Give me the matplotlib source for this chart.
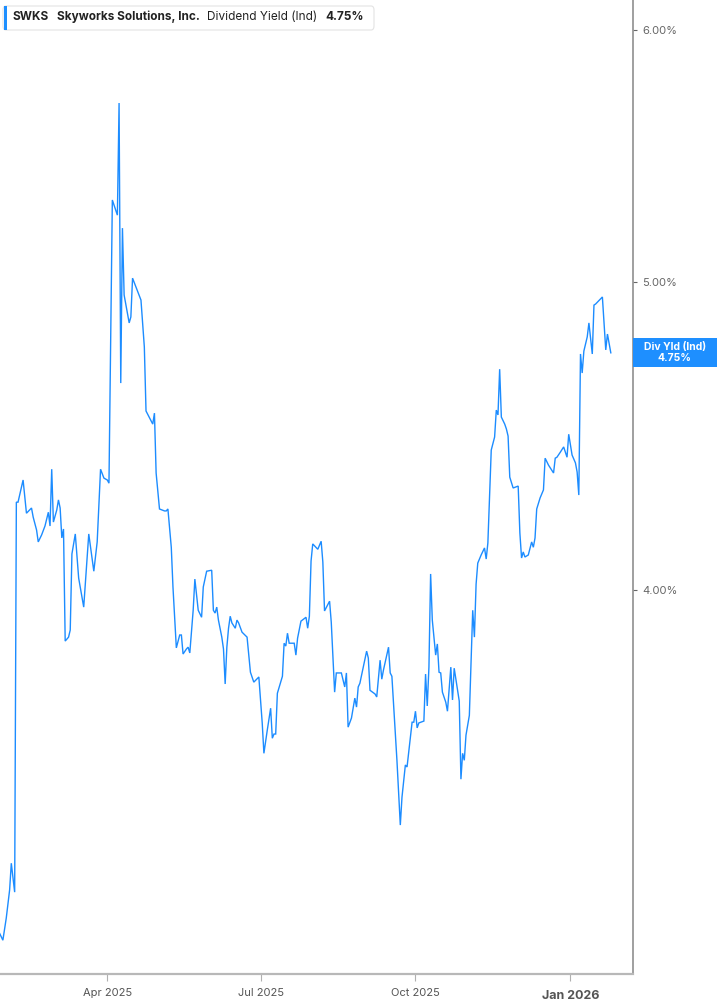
import matplotlib
matplotlib.use("Agg")
import matplotlib.pyplot as plt
import matplotlib.dates as mdates
from matplotlib.patches import FancyBboxPatch, Rectangle
from matplotlib.ticker import FixedLocator, NullLocator, FuncFormatter
import pandas as pd

plt.rcParams['font.family'] = ['Inter', 'DejaVu Sans']

# SWKS indicated dividend yield (%)
dates = [
    "2025-01-27", "2025-01-29", "2025-01-31", "2025-02-02", "2025-02-03", "2025-02-05",
    "2025-02-06", "2025-02-07", "2025-02-10", "2025-02-12", "2025-02-15", "2025-02-16",
    "2025-02-18", "2025-02-19", "2025-02-21", "2025-02-23", "2025-02-25", "2025-02-26",
    "2025-02-27", "2025-02-28", "2025-03-02", "2025-03-03", "2025-03-04", "2025-03-05",
    "2025-03-06", "2025-03-07", "2025-03-09", "2025-03-10", "2025-03-11", "2025-03-13",
    "2025-03-15", "2025-03-18", "2025-03-21", "2025-03-24", "2025-03-26", "2025-03-28",
    "2025-03-30", "2025-04-01", "2025-04-02", "2025-04-04", "2025-04-07", "2025-04-08",
    "2025-04-09", "2025-04-10", "2025-04-11", "2025-04-14", "2025-04-15", "2025-04-16",
    "2025-04-21", "2025-04-23", "2025-04-24", "2025-04-28", "2025-04-29", "2025-04-30",
    "2025-05-02", "2025-05-05", "2025-05-06", "2025-05-07", "2025-05-09", "2025-05-10",
    "2025-05-12", "2025-05-14", "2025-05-15", "2025-05-16", "2025-05-18", "2025-05-19",
    "2025-05-20", "2025-05-22", "2025-05-23", "2025-05-25", "2025-05-27", "2025-05-28",
    "2025-05-29", "2025-05-30", "2025-06-02", "2025-06-03", "2025-06-04", "2025-06-05",
    "2025-06-06", "2025-06-08", "2025-06-09", "2025-06-10", "2025-06-11", "2025-06-12",
    "2025-06-13", "2025-06-14", "2025-06-16", "2025-06-17", "2025-06-18", "2025-06-20",
    "2025-06-23", "2025-06-25", "2025-06-27", "2025-06-30", "2025-07-02", "2025-07-03",
    "2025-07-05", "2025-07-07", "2025-07-08", "2025-07-09", "2025-07-10", "2025-07-11",
    "2025-07-14", "2025-07-15", "2025-07-16", "2025-07-17", "2025-07-18", "2025-07-21",
    "2025-07-22", "2025-07-23", "2025-07-25", "2025-07-28", "2025-07-29", "2025-07-30",
    "2025-07-31", "2025-08-01", "2025-08-04", "2025-08-06", "2025-08-07", "2025-08-08",
    "2025-08-11", "2025-08-12", "2025-08-14", "2025-08-15", "2025-08-18", "2025-08-20",
    "2025-08-21", "2025-08-22", "2025-08-24", "2025-08-26", "2025-08-27", "2025-08-28",
    "2025-08-29", "2025-09-02", "2025-09-03", "2025-09-04", "2025-09-07", "2025-09-08",
    "2025-09-10", "2025-09-11", "2025-09-12", "2025-09-15", "2025-09-16", "2025-09-17",
    "2025-09-20", "2025-09-22", "2025-09-23", "2025-09-25", "2025-09-26", "2025-09-29",
    "2025-09-30", "2025-10-01", "2025-10-02", "2025-10-03", "2025-10-06", "2025-10-07",
    "2025-10-08", "2025-10-09", "2025-10-10", "2025-10-11", "2025-10-13", "2025-10-14",
    "2025-10-15", "2025-10-16", "2025-10-17", "2025-10-19", "2025-10-20", "2025-10-22",
    "2025-10-23", "2025-10-24", "2025-10-27", "2025-10-28", "2025-10-29", "2025-10-30",
    "2025-10-31", "2025-11-02", "2025-11-04", "2025-11-05", "2025-11-06", "2025-11-07",
    "2025-11-09", "2025-11-11", "2025-11-12", "2025-11-13", "2025-11-14", "2025-11-15",
    "2025-11-17", "2025-11-18", "2025-11-19", "2025-11-20", "2025-11-21", "2025-11-23",
    "2025-11-24", "2025-11-25", "2025-11-26", "2025-11-28", "2025-12-01", "2025-12-02",
    "2025-12-03", "2025-12-04", "2025-12-05", "2025-12-07", "2025-12-09", "2025-12-10",
    "2025-12-11", "2025-12-12", "2025-12-14", "2025-12-16", "2025-12-17", "2025-12-19",
    "2025-12-22", "2025-12-23", "2025-12-24", "2025-12-26", "2025-12-28", "2025-12-30",
    "2025-12-31", "2026-01-02", "2026-01-04", "2026-01-05", "2026-01-06", "2026-01-07",
    "2026-01-08", "2026-01-09", "2026-01-11", "2026-01-12", "2026-01-14", "2026-01-15",
    "2026-01-16", "2026-01-20", "2026-01-22", "2026-01-23", "2026-01-25",
]
yield_pct = [
    3.120, 3.104, 3.154, 3.219, 3.282, 3.214,
    4.263, 4.263, 4.332, 4.229, 4.245, 4.217,
    4.178, 4.142, 4.163, 4.190, 4.232, 4.190,
    4.366, 4.202, 4.239, 4.270, 4.245, 4.154,
    4.181, 3.855, 3.866, 3.886, 4.106, 4.166,
    4.035, 3.951, 4.166, 4.055, 4.142, 4.366,
    4.338, 4.332, 4.322, 5.306, 5.248, 5.692,
    4.647, 5.199, 4.953, 4.854, 4.875, 5.014,
    4.935, 4.770, 4.554, 4.511, 4.547, 4.354,
    4.242, 4.236, 4.236, 4.242, 4.126, 4.009,
    3.836, 3.872, 3.872, 3.819, 3.833, 3.838,
    3.822, 3.942, 4.032, 3.942, 3.922, 4.009,
    4.032, 4.055, 4.058, 3.942, 3.934, 3.951,
    3.914, 3.866, 3.833, 3.737, 3.838, 3.891,
    3.925, 3.906, 3.891, 3.914, 3.906, 3.880,
    3.866, 3.769, 3.742, 3.756, 3.633, 3.554,
    3.614, 3.672, 3.593, 3.604, 3.604, 3.712,
    3.758, 3.849, 3.841, 3.877, 3.849, 3.849,
    3.816, 3.863, 3.911, 3.922, 3.891, 3.925,
    4.085, 4.136, 4.120, 4.144, 4.082, 3.940,
    3.968, 3.908, 3.715, 3.767, 3.767, 3.729,
    3.767, 3.622, 3.646, 3.699, 3.675, 3.729,
    3.739, 3.827, 3.808, 3.720, 3.710, 3.702,
    3.802, 3.750, 3.775, 3.838, 3.767, 3.758,
    3.536, 3.374, 3.443, 3.524, 3.519, 3.635,
    3.635, 3.664, 3.620, 3.633, 3.638, 3.764,
    3.678, 3.783, 4.047, 3.914, 3.816, 3.847,
    3.769, 3.767, 3.715, 3.688, 3.664, 3.783,
    3.694, 3.780, 3.691, 3.488, 3.554, 3.536,
    3.601, 3.653, 3.942, 3.866, 4.017, 4.079,
    4.103, 4.124, 4.091, 4.139, 4.279, 4.427,
    4.469, 4.557, 4.541, 4.694, 4.534, 4.511,
    4.495, 4.472, 4.341, 4.307, 4.313, 4.169,
    4.094, 4.112, 4.097, 4.103, 4.142, 4.126,
    4.154, 4.242, 4.276, 4.301, 4.401, 4.379,
    4.354, 4.401, 4.404, 4.420, 4.437, 4.404,
    4.478, 4.411, 4.386, 4.357, 4.285, 4.746,
    4.681, 4.756, 4.805, 4.854, 4.746, 4.917,
    4.921, 4.946, 4.760, 4.815, 4.750,
]
y_ticks = [4.0, 5.0, 6.0]
x_ticks = ["2025-04-01", "2025-07-01", "2025-10-01", "2026-01-01"]
x_tick_labels = ["Apr 2025", "Jul 2025", "Oct 2025", "Jan 2026"]
last_value = yield_pct[-1]

df = pd.DataFrame({"date": pd.to_datetime(dates), "yld": yield_pct})

W, H = 717, 1005
fig = plt.figure(figsize=(W / 100, H / 100), dpi=100)
ax = fig.add_axes([0.0, 31 / H, 632.7 / W, 974 / H])

line_blue = '#1c8cff'
ax.plot(df["date"], df["yld"], color=line_blue, lw=1.0, solid_joinstyle='miter')

ax.set_yscale('log')
ax.set_ylim(3.029, 6.133)
ax.set_xlim(pd.Timestamp("2025-01-27 07:00"), pd.Timestamp("2026-02-07"))

# axes styling
for s in ['top', 'left']:
    ax.spines[s].set_visible(False)
ax.spines['right'].set_color('#8f8f8f')
ax.spines['right'].set_linewidth(1.2)
ax.spines['bottom'].set_color('#b8b8b8')
ax.spines['bottom'].set_linewidth(1.6)

ax.yaxis.tick_right()
ax.yaxis.set_major_locator(FixedLocator(y_ticks))
ax.yaxis.set_minor_locator(NullLocator())
ax.yaxis.set_major_formatter(FuncFormatter(lambda v, p: f"{v:.2f}%"))
ax.tick_params(axis='y', which='major', length=3, width=0.8, color='#666666',
               labelsize=8, labelcolor='#666666', pad=4)

ax.xaxis.set_major_locator(FixedLocator(mdates.date2num(pd.to_datetime(x_ticks))))
ax.xaxis.set_minor_locator(NullLocator())
ax.set_xticklabels(x_tick_labels)
ax.tick_params(axis='x', which='major', length=5, width=0.8, color='#b0b0b0',
               labelsize=8, labelcolor='#555555', pad=5)
for lbl in ax.get_xticklabels():
    if lbl.get_text().startswith('Jan'):
        lbl.set_fontweight('bold')
        lbl.set_fontsize(9)
        lbl.set_y(-0.002)

# last value tag on the right axis
ax.annotate(f"Div Yld (Ind)\n{last_value:.2f}%", xy=(1.0, last_value),
            xycoords=('axes fraction', 'data'), xytext=(0, 0), textcoords='offset points',
            ha='left', va='center', fontsize=7.5, fontweight='bold', color='white',
            linespacing=1.0, annotation_clip=False, zorder=5)
tag_top, tag_bot = 338, 367
fig.patches.append(Rectangle((633 / W, 1 - tag_bot / H), (W - 633) / W, (tag_bot - tag_top) / H,
                             transform=fig.transFigure, facecolor='#1e8fff', edgecolor='none',
                             zorder=1))
# re-place the tag text centred in the blue box
ax.texts[-1].remove()
fig.text((633 + W) / 2 / W, 1 - (tag_top + tag_bot) / 2 / H,
         f"Div Yld (Ind)\n{last_value:.2f}%", ha='center', va='center', fontsize=7.5,
         fontweight='bold', color='white', linespacing=1.05, zorder=6)

# header legend box
fig.patches.append(FancyBboxPatch((3 / W, 1 - 30 / H), 371 / W, 24 / H,
                                  boxstyle='round,pad=0,rounding_size=0.004',
                                  transform=fig.transFigure, facecolor='white',
                                  edgecolor='#e3e3e3', lw=0.8, zorder=2))
fig.patches.append(Rectangle((4 / W, 1 - 30 / H), 3 / W, 24 / H, transform=fig.transFigure,
                             facecolor='#1e8fff', edgecolor='none', zorder=3))
hdr_y = 1 - 17 / H
fig.text(13 / W, hdr_y, "SWKS", fontsize=8.5, fontweight='bold', color='#222222', va='center')
fig.text(57 / W, hdr_y, "Skyworks Solutions, Inc.", fontsize=8.5, fontweight='bold',
         color='#222222', va='center')
fig.text(207 / W, hdr_y, "Dividend Yield (Ind)", fontsize=8.5, color='#222222', va='center')
fig.text(325 / W, hdr_y, f"{last_value:.2f}%", fontsize=8.5, fontweight='bold',
         color='#222222', va='center')

fig.savefig("out.png", dpi=100)
